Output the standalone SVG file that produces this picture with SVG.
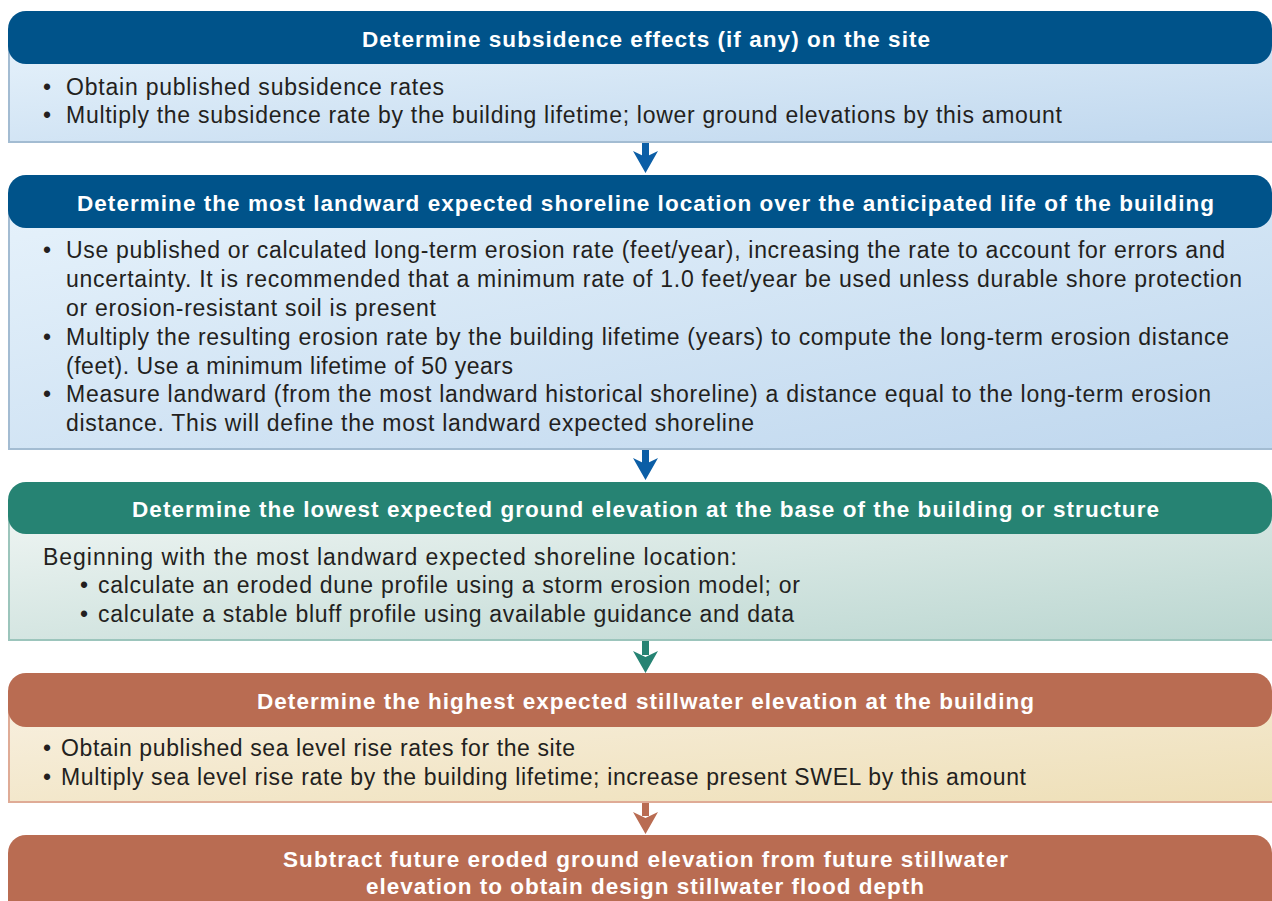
<svg xmlns="http://www.w3.org/2000/svg" width="1272" height="901" viewBox="0 0 1272 901">
<defs>
<linearGradient id="gBlue" x1="0" y1="0" x2="1" y2="1">
<stop offset="0" stop-color="#e6f2fb"/><stop offset="1" stop-color="#bfd7ee"/>
</linearGradient>
<linearGradient id="gTeal" x1="0" y1="0" x2="1" y2="1">
<stop offset="0" stop-color="#eff5f3"/><stop offset="1" stop-color="#bad6d0"/>
</linearGradient>
<linearGradient id="gRust" x1="0" y1="0" x2="1" y2="1">
<stop offset="0" stop-color="#f8f0e0"/><stop offset="1" stop-color="#eedfb7"/>
</linearGradient>
</defs>
<style>
.hd{font-family:"Liberation Sans",Arial,sans-serif;font-weight:bold;font-size:22.5px;fill:#ffffff;text-anchor:middle}
.bd{font-family:"Liberation Sans",Arial,sans-serif;font-size:23px;fill:#231f20}
.bB{fill:url(#gBlue);stroke:#a3bcd2;stroke-width:2}
.bT{fill:url(#gTeal);stroke:#9cc5bc;stroke-width:2}
.bR{fill:url(#gRust);stroke:#dfab96;stroke-width:2}
</style>

<g id="connectors">
<g id="arrow1"><rect x="642" y="143" width="7" height="14" fill="#0b5ea6"/><path d="M633,151 L645.5,157 L658,151 L645.5,173 Z" fill="#0b5ea6"/></g>
<g id="arrow2"><rect x="642" y="450" width="7" height="14" fill="#0b5ea6"/><path d="M633,458 L645.5,464 L658,458 L645.5,480 Z" fill="#0b5ea6"/></g>
<g id="arrow3"><rect x="642" y="641" width="7" height="14" fill="#268373"/><path d="M633,651 L645.5,657 L658,651 L645.5,673 Z" fill="#268373"/></g>
<g id="arrow4"><rect x="642" y="802" width="7" height="14" fill="#b96c52"/><path d="M633,812 L645.5,818 L658,812 L645.5,834 Z" fill="#b96c52"/></g>
</g>

<g id="node1">
<rect class="bB" x="9" y="38" width="1280" height="104"/>
<rect x="8" y="11" width="1264" height="53" rx="18" fill="#00538a"/>
<text class="hd" x="646" y="47" textLength="568" lengthAdjust="spacing">Determine subsidence effects (if any) on the site</text>
<text class="bd" x="43" y="95">•</text>
<text class="bd" x="66" y="95" textLength="378" lengthAdjust="spacing">Obtain published subsidence rates</text>
<text class="bd" x="43" y="123">•</text>
<text class="bd" x="66" y="123" textLength="996" lengthAdjust="spacing">Multiply the subsidence rate by the building lifetime; lower ground elevations by this amount</text>
</g>

<g id="node2">
<rect class="bB" x="9" y="202" width="1280" height="247"/>
<rect x="8" y="175" width="1264" height="53" rx="18" fill="#00538a"/>
<text class="hd" x="645.5" y="211" textLength="1137" lengthAdjust="spacing">Determine the most landward expected shoreline location over the anticipated life of the building</text>
<text class="bd" x="43" y="258">•</text>
<text class="bd" x="66" y="258" textLength="1159" lengthAdjust="spacing">Use published or calculated long-term erosion rate (feet/year), increasing the rate to account for errors and</text>
<text class="bd" x="66" y="287" textLength="1176" lengthAdjust="spacing">uncertainty. It is recommended that a minimum rate of 1.0 feet/year be used unless durable shore protection</text>
<text class="bd" x="66" y="316" textLength="370" lengthAdjust="spacing">or erosion-resistant soil is present</text>
<text class="bd" x="43" y="345">•</text>
<text class="bd" x="66" y="345" textLength="1163" lengthAdjust="spacing">Multiply the resulting erosion rate by the building lifetime (years) to compute the long-term erosion distance</text>
<text class="bd" x="66" y="374" textLength="447" lengthAdjust="spacing">(feet). Use a minimum lifetime of 50 years</text>
<text class="bd" x="43" y="402">•</text>
<text class="bd" x="66" y="402" textLength="1145" lengthAdjust="spacing">Measure landward (from the most landward historical shoreline) a distance equal to the long-term erosion</text>
<text class="bd" x="66" y="431" textLength="688" lengthAdjust="spacing">distance. This will define the most landward expected shoreline</text>
</g>

<g id="node3">
<rect class="bT" x="9" y="508" width="1280" height="132"/>
<rect x="8" y="482" width="1264" height="52" rx="18" fill="#268373"/>
<text class="hd" x="645.5" y="517" textLength="1027" lengthAdjust="spacing">Determine the lowest expected ground elevation at the base of the building or structure</text>
<text class="bd" x="43" y="565" textLength="694" lengthAdjust="spacing">Beginning with the most landward expected shoreline location:</text>
<text class="bd" x="80" y="593">•</text>
<text class="bd" x="98" y="593" textLength="702" lengthAdjust="spacing">calculate an eroded dune profile using a storm erosion model; or</text>
<text class="bd" x="80" y="622">•</text>
<text class="bd" x="98" y="622" textLength="696" lengthAdjust="spacing">calculate a stable bluff profile using available guidance and data</text>
</g>

<g id="node4">
<rect class="bR" x="9" y="700" width="1280" height="102"/>
<rect x="8" y="673" width="1264" height="54" rx="18" fill="#b96c52"/>
<text class="hd" x="645.5" y="709" textLength="777" lengthAdjust="spacing">Determine the highest expected stillwater elevation at the building</text>
<text class="bd" x="43" y="756">•</text>
<text class="bd" x="61" y="756" textLength="514" lengthAdjust="spacing">Obtain published sea level rise rates for the site</text>
<text class="bd" x="43" y="785">•</text>
<text class="bd" x="61" y="785" textLength="965" lengthAdjust="spacing">Multiply sea level rise rate by the building lifetime; increase present SWEL by this amount</text>
</g>

<g id="node5">
<rect x="8" y="835" width="1264" height="90" rx="18" fill="#b96c52"/>
<text class="hd" x="645.5" y="867" textLength="725" lengthAdjust="spacing">Subtract future eroded ground elevation from future stillwater</text>
<text class="hd" x="645" y="894" textLength="558" lengthAdjust="spacing">elevation to obtain design stillwater flood depth</text>
</g>
</svg>
